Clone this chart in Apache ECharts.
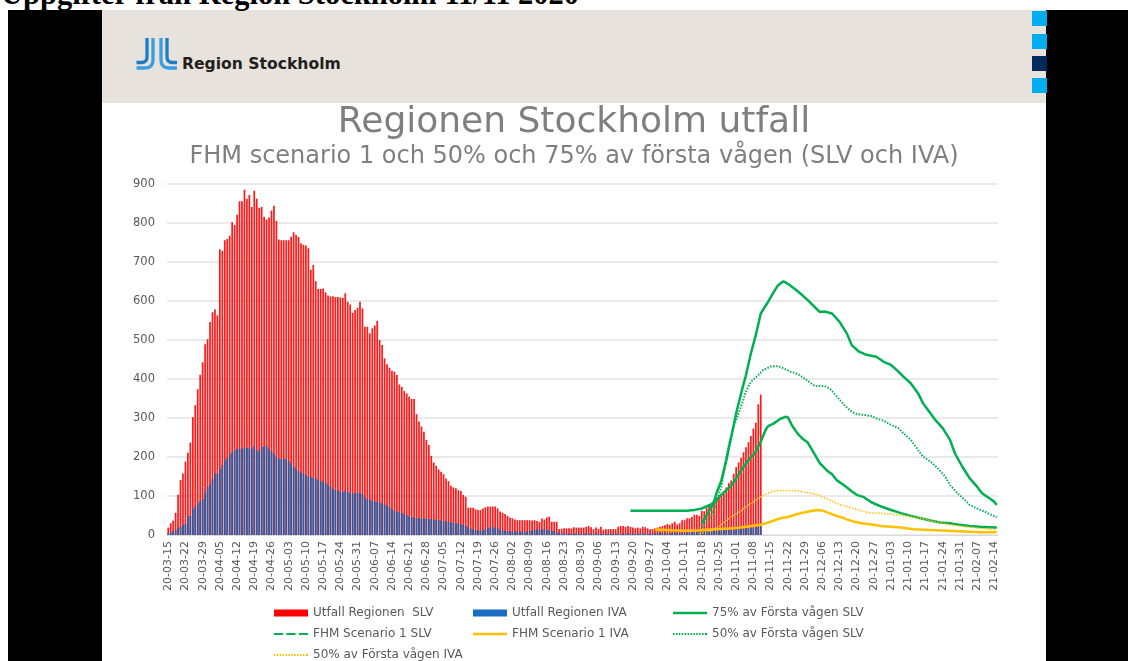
<!DOCTYPE html>
<html>
<head>
<meta charset="utf-8">
<script src="https://cdn.jsdelivr.net/npm/echarts@6/dist/echarts.min.js"></script>
<style>
html,body{margin:0;padding:0;background:#fff;}
#page{position:relative;width:1128px;height:661px;overflow:hidden;background:#fff;}
#black{position:absolute;left:8px;top:10px;width:1120px;height:651px;background:#000;}
#slide{position:absolute;left:102px;top:10px;width:944px;height:651px;background:#fff;}
#band{position:absolute;left:102px;top:10px;width:944px;height:93px;background:#e8e2dc;}
#toptext{position:absolute;left:1px;top:-21px;font:bold 30.5px "Liberation Serif",serif;color:#000;white-space:nowrap;line-height:30px;}
.sq{position:absolute;left:1032px;width:15px;height:15px;background:#00aeef;}
#logo{position:absolute;left:0;top:0;}
#chart{position:absolute;left:0;top:0;width:1128px;height:661px;}
</style>
</head>
<body>
<div id="page">
  <div id="black"></div>
  <div id="slide"></div>
  <div id="band"></div>
  <div id="toptext">Uppgifter från Region Stockholm 11/11 2020</div>
  <div class="sq" style="top:11px"></div>
  <div class="sq" style="top:34px"></div>
  <div class="sq" style="top:56px;background:#002a5c"></div>
  <div class="sq" style="top:78px"></div>
  <svg id="logo" width="360" height="100">
    <g fill="none" stroke-width="3.3" stroke-linecap="butt">
      <path d="M147,38 V57 Q147,62.5 141.5,62.5 H136.5" stroke="#1c7cc8"/>
      <path d="M153,38 V60 Q153,68 145,68 H136.5" stroke="#3a9de0"/>
      <path d="M161,38 V60 Q161,68 169,68 H177" stroke="#3a9de0"/>
      <path d="M167,38 V57 Q167,62.5 172.5,62.5 H177" stroke="#1c7cc8"/>
    </g>
    <text x="182" y="68.5" font-family="DejaVu Sans" font-weight="bold" font-size="15.6" fill="#231f20">Region Stockholm</text>
  </svg>
  <div id="chart"></div>
</div>
<script>
// ---------- DATA ----------
const startDay = '2020-03-15';
const dayCount = 338; // 20-03-15 .. 21-02-15

// Daily outcome, starting 20-03-15
const utfallSLV = [
  19, 30, 37, 57, 103, 141, 158, 188, 211, 237, 302, 333, 374, 411, 443, 489, 502, 546, 571, 579, 563,
  733, 728, 756, 759, 767, 802, 795, 821, 856, 856, 885, 862, 872, 841, 883, 862, 839, 841, 816, 809, 814, 832, 844, 805, 758, 756, 756, 756, 756, 765, 776, 769, 764, 748, 744,
  742, 735, 680, 692, 651, 631, 631, 632, 622, 614, 612, 612, 610, 610, 609, 608, 620, 598, 591, 570, 577, 583, 598, 581, 534, 534, 517, 530, 537, 549, 500, 487, 453, 438, 429, 421, 419, 410, 386, 380, 369, 363, 355, 349, 349,
  310, 291, 278, 265, 244, 231, 203, 186, 178, 168, 162, 156, 145, 138, 126, 122, 120, 115, 113, 103, 98,
  70, 70, 70, 66, 64, 64, 68, 71, 73, 73, 73, 73, 68, 60, 57, 54, 49, 45, 43, 40, 38, 38, 38, 38, 38, 38, 37, 38, 36, 34, 42, 40, 45, 47, 34, 34, 34, 15,
  16, 17, 17, 17, 17, 20, 19, 19, 19, 19, 21, 23, 20, 15, 19, 16, 21, 13, 15, 15, 15, 15, 15, 21, 23, 23, 21, 23, 21, 19, 17, 19, 17, 21, 20, 17, 15, 15, 17, 19, 21, 23, 25, 28, 26, 30, 34, 27,
  30, 38, 38, 43, 43, 46, 52, 52, 49, 62, 61, 70, 76, 81, 88, 93, 96, 101, 105, 122, 133, 140, 157, 174, 186, 198, 212, 225, 238, 254, 273, 288, 335, 360
];
const utfallIVA = [
  4, 6, 10, 12, 19, 21, 26, 29, 49, 49, 68, 73, 81, 87, 92, 109, 124, 131, 144, 158, 158, 169, 179, 192, 198, 207, 212, 218, 222, 221, 221, 224, 224, 224, 221, 229, 218, 214, 226, 226, 229, 221, 214, 209, 201, 195, 195, 195, 195, 190, 184, 175, 171, 164, 161, 158,
  154, 150, 149, 147, 145, 141, 139, 137, 134, 129, 124, 119, 116, 114, 111, 110, 115, 110, 108, 107, 107, 108, 109, 105, 97, 92, 90, 88, 86, 85, 84, 81, 79, 76, 72, 66, 62, 60, 58, 57, 54, 51, 48, 46, 45, 44, 43, 43, 42, 42, 41, 41, 40, 39, 38,
  37, 36, 35, 34, 33, 32, 31, 30, 28, 26, 24, 20, 17, 15, 13, 12, 12, 13, 16, 18, 20, 20, 19, 17, 14, 12, 11, 10, 10, 9, 9, 9, 9, 9, 8, 9, 10, 12, 13, 14, 14, 15, 15, 14, 13, 11, 9, 7, 5,
  4, 4, 4, 3, 4, 4, 4, 3, 3, 4, 4, 4, 3, 3, 4, 3, 4, 3, 3, 3, 3, 4, 4, 3, 3, 4, 4, 4, 3, 3, 3, 3, 4, 4, 3, 3, 4, 4, 4, 5,
  5, 5, 5, 4, 5, 5, 6, 5, 5, 6, 6, 6, 7, 7, 7, 8, 8, 9, 9, 10, 10, 10, 11, 11, 11, 12, 12, 13, 13, 14, 14, 15, 15, 16, 17, 17, 18, 19, 19, 20, 21, 22
];

// Scenario lines: [date, value]
const fhmSLV = [
  ['20-09-19',62],['20-10-01',62],['20-10-12',62],['20-10-15',64],['20-10-18',68],['20-10-22',79],['20-10-24',91],
  ['20-10-26',103],['20-10-28',115],['20-10-30',127],['20-11-01',145],['20-11-04',175],['20-11-07',200],['20-11-08',205],
  ['20-11-09',215],['20-11-11',239],['20-11-13',270],['20-11-14',279],['20-11-16',285],['20-11-19',298],['20-11-21',303],
  ['20-11-22',302],['20-11-24',278],['20-11-26',260],['20-11-28',247],['20-11-30',238],['20-12-03',206],['20-12-05',184],
  ['20-12-08',165],['20-12-10',156],['20-12-12',140],['20-12-15',127],['20-12-18',112],['20-12-20',103],['20-12-23',97],
  ['20-12-26',84],['20-12-30',73],['21-01-03',64],['21-01-07',56],['21-01-11',49],['21-01-15',43],['21-01-19',37],
  ['21-01-23',32],['21-01-27',30],['21-01-31',26],['21-02-04',23],['21-02-08',21],['21-02-12',20],['21-02-15',19]
];
const fhmIVA = [
  ['20-09-29',14],['20-10-06',12],['20-10-12',11],['20-10-17',12],['20-10-23',15],['20-10-31',17],['20-11-05',21],
  ['20-11-11',26],['20-11-15',34],['20-11-19',43],['20-11-22',46],['20-11-25',52],['20-11-28',57],['20-12-01',61],
  ['20-12-04',64],['20-12-06',63],['20-12-08',58],['20-12-11',51],['20-12-14',45],['20-12-16',40],['20-12-19',34],
  ['20-12-22',30],['20-12-26',27],['20-12-30',23],['21-01-03',21],['21-01-07',19],['21-01-12',15],['21-01-19',13],
  ['21-01-26',11],['21-02-02',9],['21-02-08',7],['21-02-15',7]
];
const forsta75SLV = [
  ['20-10-18',30],['20-10-20',50],['20-10-21',62],['20-10-23',85],['20-10-24',107],['20-10-26',140],['20-10-28',192],
  ['20-10-30',252],['20-11-01',312],['20-11-03',363],['20-11-05',410],['20-11-07',466],['20-11-09',513],['20-11-11',568],
  ['20-11-14',598],['20-11-16',620],['20-11-18',640],['20-11-20',650],['20-11-21',648],['20-11-23',640],['20-11-25',630],
  ['20-11-27',620],['20-11-30',603],['20-12-03',584],['20-12-05',572],['20-12-07',573],['20-12-10',568],['20-12-13',547],
  ['20-12-16',517],['20-12-18',487],['20-12-21',470],['20-12-24',462],['20-12-28',457],['20-12-31',444],['21-01-03',436],
  ['21-01-06',419],['21-01-08',406],['21-01-11',389],['21-01-14',363],['21-01-16',338],['21-01-19',312],['21-01-21',295],
  ['21-01-24',274],['21-01-27',244],['21-01-29',209],['21-02-01',175],['21-02-04',145],['21-02-07',124],['21-02-09',107],
  ['21-02-12',94],['21-02-14',85],['21-02-15',77]
];
const forsta50SLV = [
  ['20-10-18',20],['20-10-21',40],['20-10-23',65],['20-10-24',85],['20-10-26',124],['20-10-28',200],['20-10-29',230],
  ['20-10-31',278],['20-11-03',329],['20-11-05',368],['20-11-07',393],['20-11-10',410],['20-11-12',423],['20-11-15',432],
  ['20-11-18',433],['20-11-20',428],['20-11-23',419],['20-11-26',413],['20-11-28',405],['20-12-01',391],['20-12-03',382],
  ['20-12-07',382],['20-12-09',376],['20-12-12',355],['20-12-15',333],['20-12-18',316],['20-12-20',310],['20-12-23',308],
  ['20-12-26',305],['20-12-28',299],['20-12-31',293],['21-01-03',282],['21-01-06',274],['21-01-08',261],['21-01-11',244],
  ['21-01-14',218],['21-01-16',201],['21-01-19',188],['21-01-22',171],['21-01-25',150],['21-01-27',128],['21-01-30',107],
  ['21-02-02',90],['21-02-04',77],['21-02-07',68],['21-02-10',60],['21-02-13',51],['21-02-15',45]
];
const forsta50IVA = [
  ['20-10-17',3],['20-10-23',13],['20-10-26',26],['20-10-28',38],['20-10-31',51],['20-11-03',62],['20-11-05',73],
  ['20-11-08',85],['20-11-11',98],['20-11-14',107],['20-11-16',113],['20-11-19',114],['20-11-24',114],['20-11-27',112],
  ['20-11-30',109],['20-12-03',105],['20-12-05',101],['20-12-07',95],['20-12-10',87],['20-12-13',78],['20-12-17',71],
  ['20-12-21',64],['20-12-25',57],['20-12-29',56],['21-01-02',54],['21-01-06',51],['21-01-11',47],['21-01-15',43],
  ['21-01-19',37],['21-01-23',32],['21-01-27',26],['21-01-31',23],['21-02-04',20],['21-02-08',17],['21-02-12',15],['21-02-15',13]
];

const yTicks = [0, 100, 200, 300, 400, 500, 600, 700, 800, 900];
const seriesNames = ['Utfall Regionen  SLV', 'Utfall Regionen IVA', '75% av Första vågen SLV',
  'FHM Scenario 1 SLV', 'FHM Scenario 1 IVA', '50% av Första vågen SLV', '50% av Första vågen IVA'];

// ---------- BUILD ----------
const categories = [];
(function () {
  const t0 = Date.parse(startDay + 'T00:00:00Z');
  for (let i = 0; i < dayCount; i++) {
    const d = new Date(t0 + i * 86400000);
    const yy = String(d.getUTCFullYear()).slice(2);
    const mm = String(d.getUTCMonth() + 1).padStart(2, '0');
    const dd = String(d.getUTCDate()).padStart(2, '0');
    categories.push(yy + '-' + mm + '-' + dd);
  }
})();
const toXY = pts => pts.map(p => [categories.indexOf(p[0]), p[1]]);

const FONT = 'DejaVu Sans';
const GREEN = '#00b050', YELLOW = '#ffc000';
const txt = {fontSize: 12, color: '#595959', fontFamily: FONT};

// legend icon shapes (34 x 2 units)
const dashIcon = 'path://M0,0h9v2h-9Z M12.5,0h9v2h-9Z M25,0h9v2h-9Z';
let dotIcon = 'path://';
for (let k = 0; k < 12; k++) { dotIcon += 'M' + (k * 2.9).toFixed(2) + ',0h1.5v2h-1.5Z '; }
dotIcon += 'M32.5,0h1.5v2h-1.5Z';

function leg(name, left, rowY, icon, color, h) {
  return {
    data: [{name: name, icon: icon, itemStyle: {color: color}}],
    left: left, top: rowY - 8, orient: 'horizontal', padding: 0,
    itemWidth: 34, itemHeight: h, itemGap: 0, selectedMode: false,
    textStyle: txt
  };
}
const row1 = 615, row2 = 636, row3 = 657;

const chart = echarts.init(document.getElementById('chart'), null, {renderer: 'canvas'});
chart.setOption({
  backgroundColor: 'transparent',
  animation: false,
  graphic: [
    {type: 'text', x: 574, y: 123, style: {text: 'Regionen Stockholm utfall', font: '36px "DejaVu Sans"', fill: '#7f7f7f', align: 'center', verticalAlign: 'middle'}},
    {type: 'text', x: 574, y: 157, style: {text: 'FHM scenario 1 och 50% och 75% av första vågen (SLV och IVA)', font: '24px "DejaVu Sans"', fill: '#7f7f7f', align: 'center', verticalAlign: 'middle'}}
  ],
  legend: [
    leg(seriesNames[0], 274, row1, 'rect', '#ff0000', 7),
    leg(seriesNames[1], 473, row1, 'rect', '#1a6fc4', 7),
    leg(seriesNames[2], 673, row1, 'rect', GREEN, 2.5),
    leg(seriesNames[3], 274, row2, dashIcon, GREEN, 2.5),
    leg(seriesNames[4], 473, row2, 'rect', YELLOW, 2.5),
    leg(seriesNames[5], 673, row2, dotIcon, GREEN, 2),
    leg(seriesNames[6], 274, row3, dotIcon, YELLOW, 2)
  ],
  grid: {left: 167, right: 130, top: 184, bottom: 126, containLabel: false},
  xAxis: {
    type: 'category', data: categories, boundaryGap: true,
    axisTick: {show: false},
    axisLine: {lineStyle: {color: '#d9d9d9', width: 1}},
    axisLabel: {rotate: 90, interval: 6, margin: 6, fontSize: 11, color: '#595959', fontFamily: FONT}
  },
  yAxis: {
    type: 'value', min: yTicks[0], max: yTicks[yTicks.length - 1], interval: 100,
    axisLine: {show: false}, axisTick: {show: false},
    axisLabel: {margin: 12, fontSize: 11.5, color: '#595959', fontFamily: FONT},
    splitLine: {lineStyle: {color: '#e3e3e3', width: 1.5}}
  },
  series: [
    {name: seriesNames[0], type: 'bar', data: utfallSLV, barCategoryGap: '30%', barGap: '-100%',
      itemStyle: {color: '#ff1a1a'}, z: 1},
    {name: seriesNames[1], type: 'bar', data: utfallIVA, barCategoryGap: '30%', barGap: '-100%',
      itemStyle: {color: '#2c5aa0'}, z: 2},
    {name: seriesNames[2], type: 'line', data: toXY(forsta75SLV), symbol: 'none', smooth: false,
      lineStyle: {color: GREEN, width: 2.5}, itemStyle: {color: GREEN}, z: 5},
    {name: seriesNames[3], type: 'line', data: toXY(fhmSLV), symbol: 'none',
      lineStyle: {color: GREEN, width: 2.5}, itemStyle: {color: GREEN}, z: 5},
    {name: seriesNames[4], type: 'line', data: toXY(fhmIVA), symbol: 'none',
      lineStyle: {color: YELLOW, width: 2.5}, itemStyle: {color: YELLOW}, z: 5},
    {name: seriesNames[5], type: 'line', data: toXY(forsta50SLV), symbol: 'none',
      lineStyle: {color: GREEN, width: 2, type: [1.5, 1.5]}, itemStyle: {color: GREEN}, z: 5},
    {name: seriesNames[6], type: 'line', data: toXY(forsta50IVA), symbol: 'none',
      lineStyle: {color: YELLOW, width: 1.5, type: [1.5, 1.5]}, itemStyle: {color: YELLOW}, z: 5}
  ]
});
</script>
</body>
</html>
